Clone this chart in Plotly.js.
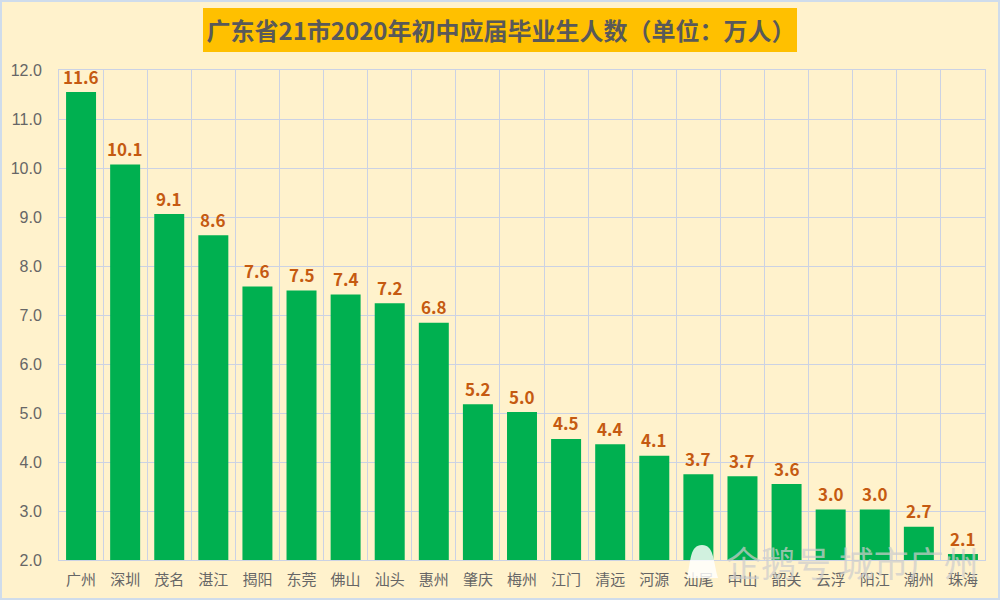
<!DOCTYPE html>
<html><head><meta charset="utf-8">
<script src="https://cdn.plot.ly/plotly-3.0.1.min.js"></script>
<style>html,body{margin:0;padding:0;background:#FFF2CC}#c{width:1000px;height:600px}</style></head>
<body><div id="c"></div>
<script>
const cities=['广州','深圳','茂名','湛江','揭阳','东莞','佛山','汕头','惠州','肇庆','梅州','江门','清远','河源','汕尾','中山','韶关','云浮','阳江','潮州','珠海'];
const students=[11.55,10.07,9.06,8.63,7.58,7.5,7.42,7.24,6.84,5.18,5.02,4.47,4.36,4.13,3.75,3.71,3.55,3.03,3.03,2.68,2.12];
const labels=['11.6','10.1','9.1','8.6','7.6','7.5','7.4','7.2','6.8','5.2','5.0','4.5','4.4','4.1','3.7','3.7','3.6','3.0','3.0','2.7','2.1'];
const yTicks=[2,3,4,5,6,7,8,9,10,11,12];
const yTickLabels=['2.0','3.0','4.0','5.0','6.0','7.0','8.0','9.0','10.0','11.0','12.0'];
const titleText='广东省21市2020年初中应届毕业生人数（单位：万人）';
const watermark='企鹅号 城市广州';
const F='"Noto Sans CJK SC","Noto Sans",sans-serif';
const W=1000,H=600,L=59,R=985,T=70,B=560;
const px=x=>(x-L)/(R-L), py=y=>(B-y)/(B-T);
const valueLabels=cities.map((c,i)=>({xref:'x',yref:'y',x:c,y:students[i],yshift:16,xanchor:'center',yanchor:'middle',showarrow:false,
  text:labels[i],font:{family:F,size:17,color:'#C55A11',weight:700}}));
Plotly.newPlot('c',[{
  type:'bar',x:cities,y:students,
  marker:{color:'#00B050',line:{width:0}},width:0.68,hoverinfo:'x+y'
}],{
  width:W,height:H,autosize:false,showlegend:false,bargap:0.32,
  paper_bgcolor:'#FFF2CC',plot_bgcolor:'#FFF2CC',
  margin:{l:L,r:W-R,t:T,b:H-B,pad:0},
  title:{text:titleText,font:{family:F,size:24,color:'#595959',weight:700},x:0.501,xanchor:'center',y:0.948,yanchor:'middle'},
  xaxis:{type:'category',categoryorder:'array',categoryarray:cities,showgrid:true,gridcolor:'#CBD2E4',gridwidth:1,
    tickson:'boundaries',ticks:'',linecolor:'#CBD2E4',linewidth:1,showline:true,mirror:true,ticklabelstandoff:6,
    tickfont:{family:F,size:15,color:'#666666'},tickangle:0},
  yaxis:{range:[2,12],tickmode:'array',tickvals:yTicks,ticktext:yTickLabels,showgrid:true,gridcolor:'#CBD2E4',gridwidth:1,
    ticks:'',zeroline:false,linecolor:'#CBD2E4',linewidth:1,showline:true,mirror:true,ticklabelstandoff:13,
    tickfont:{family:'"Liberation Sans","Noto Sans",sans-serif',size:16,color:'#666666'}},
  shapes:[
    {type:'rect',xref:'paper',yref:'paper',x0:px(203),x1:px(797),y0:py(52),y1:py(8),fillcolor:'#FFC000',line:{width:0},layer:'below'},
    {type:'rect',xref:'paper',yref:'paper',x0:px(1),x1:px(999),y0:py(599),y1:py(1),fillcolor:'rgba(0,0,0,0)',line:{color:'#CFDCEB',width:2},layer:'below'},
    {type:'path',xref:'paper',yref:'paper',layer:'above',line:{width:0},fillcolor:'rgba(255,255,255,0.82)',
     path:`M ${px(687)} ${py(578)} C ${px(691)} ${py(560)} ${px(690)} ${py(545)} ${px(702)} ${py(545)} C ${px(714)} ${py(545)} ${px(713)} ${py(560)} ${px(718)} ${py(578)} Z`}
  ],
  annotations:valueLabels.concat([{xref:'paper',yref:'paper',x:px(852),y:py(561),xanchor:'center',yanchor:'middle',showarrow:false,
    text:watermark,font:{family:F,size:35,color:'rgba(205,205,205,0.72)'}}])
},{displayModeBar:false,staticPlot:true});
</script></body></html>
